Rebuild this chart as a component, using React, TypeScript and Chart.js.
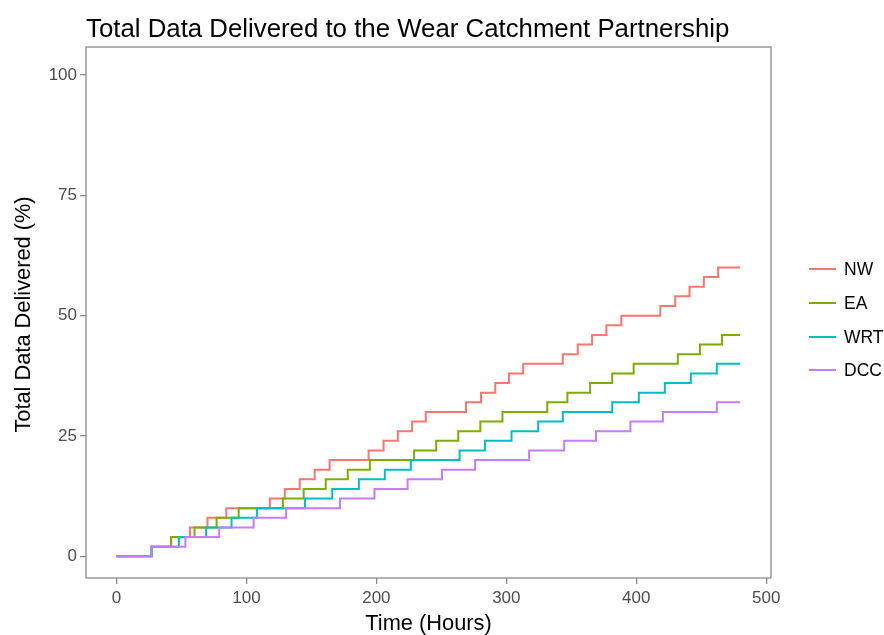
import React, { useEffect, useRef } from "react";
import { Chart, registerables } from "chart.js";

Chart.register(...registerables);

const titleText = "Total Data Delivered to the Wear Catchment Partnership";
const xTitle = "Time (Hours)";
const yTitle = "Total Data Delivered (%)";

const seriesNames = ["NW", "EA", "WRT", "DCC"];
const seriesColors = ["#F8766D", "#7CAE00", "#00BFC4", "#C77CFF"];

const nwHours = [0, 27, 42, 56.5, 70, 84.5, 118, 129.5, 141, 152.5, 164, 194, 205.5, 216.5, 227.5, 238, 269, 280.5, 291.5, 302, 313, 343.5, 355, 366, 377, 388.5, 418.5, 430, 441, 452, 463, 480];
const nwPct = [0, 2, 4, 6, 8, 10, 12, 14, 16, 18, 20, 22, 24, 26, 28, 30, 32, 34, 36, 38, 40, 42, 44, 46, 48, 50, 52, 54, 56, 58, 60, 60];

const eaHours = [0, 27, 42, 60, 77, 94, 128, 144, 161, 178, 195, 229, 246, 263, 280, 297, 331.5, 347, 364.5, 381.5, 398, 432, 449, 466, 480];
const eaPct = [0, 2, 4, 6, 8, 10, 12, 14, 16, 18, 20, 22, 24, 26, 28, 30, 32, 34, 36, 38, 40, 42, 44, 46, 46];

const wrtHours = [0, 27, 48, 69, 88.5, 108, 145, 166, 186.5, 206.5, 226.5, 264, 283.5, 304, 324.5, 343.5, 381.5, 402, 422, 442, 462, 480];
const wrtPct = [0, 2, 4, 6, 8, 10, 12, 14, 16, 18, 20, 22, 24, 26, 28, 30, 32, 34, 36, 38, 40, 40];

const dccHours = [0, 27, 53, 79, 105.5, 130.5, 172, 198.5, 224, 250.5, 276, 317.5, 344.5, 369, 395.5, 420.5, 462, 480];
const dccPct = [0, 2, 4, 6, 8, 10, 12, 14, 16, 18, 20, 22, 24, 26, 28, 30, 32, 32];

const xTicks = [0, 100, 200, 300, 400, 500];
const yTicks = [0, 25, 50, 75, 100];

const seriesHours = [nwHours, eaHours, wrtHours, dccHours];
const seriesPct = [nwPct, eaPct, wrtPct, dccPct];

const FONT = '"Liberation Sans", Arial, Helvetica, sans-serif';

const decorPlugin = {
  id: "decor",
  afterDraw(chart: any) {
    const { ctx, chartArea: a } = chart;
    ctx.save();
    // panel border
    ctx.strokeStyle = "#8a8a8a";
    ctx.lineWidth = 1.3;
    ctx.strokeRect(a.left, a.top, a.right - a.left, a.bottom - a.top);

    // title
    ctx.fillStyle = "#000000";
    ctx.font = `25.8px ${FONT}`;
    ctx.textAlign = "left";
    ctx.textBaseline = "alphabetic";
    ctx.fillText(titleText, a.left, 37);

    // x title
    ctx.font = `21.8px ${FONT}`;
    ctx.textAlign = "center";
    ctx.fillText(xTitle, (a.left + a.right) / 2, 630);

    // y title
    ctx.save();
    ctx.translate(30, (a.top + a.bottom) / 2 + 2);
    ctx.rotate(-Math.PI / 2);
    ctx.fillText(yTitle, 0, 0);
    ctx.restore();

    // legend
    const rowsY = [269, 303, 337, 370];
    ctx.font = `17.5px ${FONT}`;
    ctx.textAlign = "left";
    ctx.textBaseline = "middle";
    seriesNames.forEach((n, i) => {
      const y = rowsY[i];
      ctx.strokeStyle = seriesColors[i];
      ctx.lineWidth = 2;
      ctx.beginPath();
      ctx.moveTo(809, y);
      ctx.lineTo(836, y);
      ctx.stroke();
      ctx.fillStyle = "#000000";
      ctx.fillText(n, 844, y + 1);
    });
    ctx.restore();
  },
};

export default function App() {
  const canvasRef = useRef<HTMLCanvasElement | null>(null);

  useEffect(() => {
    document.body.style.margin = "0";
    const canvas = canvasRef.current;
    if (!canvas) return;
    const datasets = seriesNames.map((name, i) => ({
      label: name,
      data: seriesHours[i].map((h, j) => ({ x: h, y: seriesPct[i][j] })),
      borderColor: seriesColors[i],
      backgroundColor: seriesColors[i],
      borderWidth: 2,
      pointRadius: 0,
      stepped: true as const,
      fill: false,
      order: 3 - i,
    }));

    const chart = new Chart(canvas, {
      type: "line",
      data: { datasets },
      options: {
        animation: false,
        responsive: false,
        maintainAspectRatio: false,
        layout: { padding: { top: 47, left: 0, right: 113, bottom: 0 } },
        plugins: {
          legend: { display: false },
          tooltip: { enabled: false },
          title: { display: false },
        },
        scales: {
          x: {
            type: "linear",
            min: -23.5,
            max: 503.7,
            afterBuildTicks: (s: any) => {
              s.ticks = xTicks.map((v) => ({ value: v }));
            },
            afterFit: (s: any) => {
              s.height = 57;
            },
            grid: {
              drawOnChartArea: false,
              drawTicks: true,
              tickLength: 6,
              color: "#8a8a8a",
              tickColor: "#8a8a8a",
              lineWidth: 1.3,
            },
            border: { display: false },
            ticks: {
              font: { family: FONT, size: 17 },
              color: "#4d4d4d",
              padding: 4,
              maxRotation: 0,
              autoSkip: false,
            },
          },
          y: {
            type: "linear",
            min: -4.5,
            max: 105.8,
            afterBuildTicks: (s: any) => {
              s.ticks = yTicks.map((v) => ({ value: v }));
            },
            afterFit: (s: any) => {
              s.width = 86;
            },
            grid: {
              drawOnChartArea: false,
              drawTicks: true,
              tickLength: 6,
              color: "#8a8a8a",
              tickColor: "#8a8a8a",
              lineWidth: 1.3,
            },
            border: { display: false },
            ticks: {
              font: { family: FONT, size: 17 },
              color: "#4d4d4d",
              padding: 3,
              autoSkip: false,
            },
          },
        },
      },
      plugins: [decorPlugin],
    });
    return () => chart.destroy();
  }, []);

  return (
    <div style={{ position: "absolute", left: 0, top: 0, width: 884, height: 635, background: "#ffffff" }}>
      <canvas ref={canvasRef} width={884} height={635} style={{ width: 884, height: 635, display: "block" }} />
    </div>
  );
}
